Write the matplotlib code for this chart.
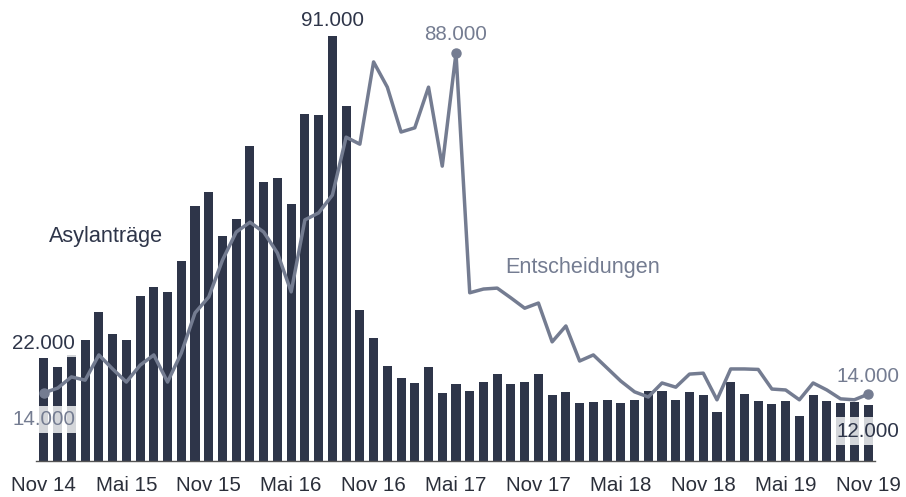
import numpy as np
import matplotlib
matplotlib.use("Agg")
import matplotlib.pyplot as plt

plt.rcParams['font.family'] = ['Liberation Sans', 'DejaVu Sans']

# monthly values Nov 14 .. Nov 19 (61 months)
asylantraege = [22000, 20100, 22700, 25900, 31900, 27200, 25900, 35300, 37200, 36200,
                42800, 54600, 57600, 48200, 51800, 67400, 59700, 60600, 55000, 74300,
                74000, 91000, 76000, 32300, 26300, 20300, 17800, 16700, 20100, 14600,
                16500, 15000, 16900, 18600, 16500, 16900, 18600, 14100, 14800, 12400,
                12600, 13100, 12400, 13100, 15000, 15000, 13100, 14800, 14100, 10500,
                16900, 14300, 12800, 12200, 12800, 9600, 14100, 12800, 12400, 12600,
                12000]
entscheidungen = [14600, 15600, 18000, 17300, 22700, 19700, 16900, 20500, 22700, 16900,
                  23100, 31700, 35100, 43000, 49000, 51100, 49000, 44500, 36200, 51600,
                  53100, 56900, 69300, 67800, 85400, 80000, 70400, 71300, 80000, 63100,
                  87300, 36000, 36800, 37000, 34900, 32700, 33800, 25500, 28900, 21400,
                  22700, 19900, 17100, 14800, 13700, 16700, 15800, 18600, 18800, 13100,
                  19700, 19700, 19600, 15400, 15200, 13100, 16700, 15200, 13300, 13100,
                  14300]
tick_labels = ["Nov 14", "Mai 15", "Nov 15", "Mai 16", "Nov 16", "Mai 17",
               "Nov 17", "Mai 18", "Nov 18", "Mai 19", "Nov 19"]

bar_col = '#2e3549'
line_col = '#747c91'
fs = 14.8

x = np.arange(len(asylantraege))
last = len(x) - 1
peak_bar = int(np.argmax(asylantraege))
peak_line = int(np.argmax(entscheidungen))

fig = plt.figure(figsize=(9.06, 4.97), dpi=100)
ax = fig.add_axes([0.0397, 0.0724, 0.926, 0.9276])

ax.bar(x, asylantraege, width=0.66, color=bar_col, zorder=2)
ax.plot(x, entscheidungen, color=line_col, lw=2.5, zorder=3,
        marker='o', ms=6.5, markevery=[0, peak_line, last])

ax.set_xlim(-0.58, 60.5)
ax.set_ylim(0, 98650)
for s in ['top', 'right', 'left']:
    ax.spines[s].set_visible(False)
ax.spines['bottom'].set_color('#555555')
ax.spines['bottom'].set_linewidth(1.0)
ax.set_yticks([])
ax.set_xticks(x[::6])
ax.set_xticklabels(tick_labels, fontsize=fs, color='#2b2f3a')
ax.tick_params(axis='x', length=0, pad=10.5)

box = dict(boxstyle='square,pad=0.2', fc='white', ec='none', alpha=0.8)

def lab(text, i, v, dy, col, va, bbox=None):
    ax.annotate(f"{text:,}".replace(",", "."), xy=(i, v), xytext=(0, dy),
                textcoords='offset points', ha='center', va=va, fontsize=fs,
                color=col, bbox=bbox, zorder=5)

lab(91000, peak_bar, asylantraege[peak_bar], 4, bar_col, 'bottom')
lab(88000, peak_line, entscheidungen[peak_line], 6.5, line_col, 'bottom')
lab(22000, 0, asylantraege[0], 3.5, bar_col, 'bottom', box)
lab(14000, 0, entscheidungen[0], -12.5, line_col, 'top', box)
lab(14000, last, entscheidungen[last], 6, line_col, 'bottom')
lab(12000, last, asylantraege[last], -12, bar_col, 'top', box)

ax.text(0.36, 46900, "Asylanträge", fontsize=15.6, color=bar_col, va='baseline', zorder=5)
ax.text(33.6, 40200, "Entscheidungen", fontsize=15.6, color=line_col, va='baseline', zorder=5)

fig.savefig("out.png", dpi=100)
